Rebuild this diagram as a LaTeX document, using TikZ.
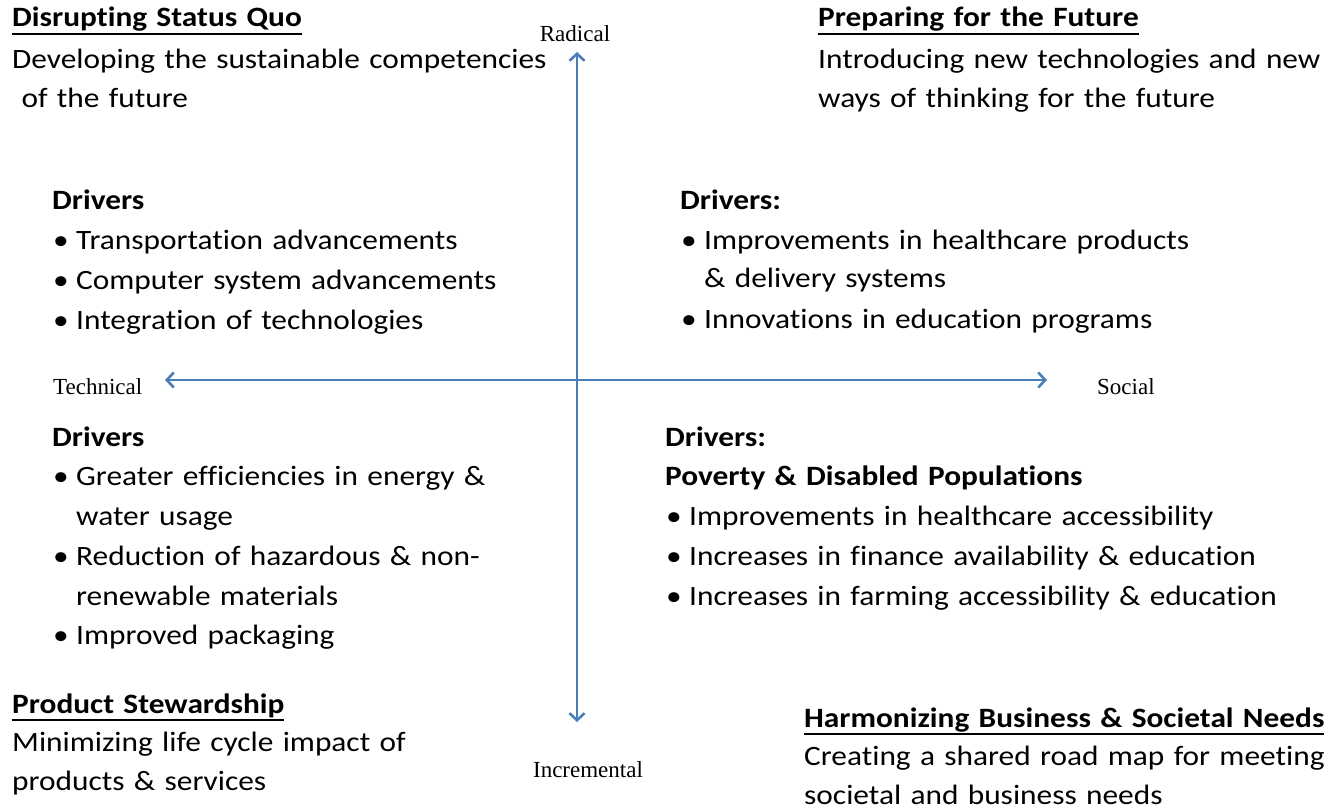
\documentclass[tikz,border=0pt]{standalone}
\usepackage{fontspec}
\setmainfont{Carlito}[Ligatures=NoCommon,FakeStretch=1.12]
\newfontfamily\axisfont{Liberation Serif}
\usetikzlibrary{arrows.meta}
\definecolor{axisblue}{HTML}{4A7EBB}
\newcommand{\bul}{\makebox[24pt][l]{\hspace{1pt}•}}
\newcommand{\cont}{\hspace*{24pt}}
\newlength\ttlw
\newcommand{\ttl}[1]{\settowidth\ttlw{\textbf{#1}}\textbf{#1}\hspace{-\ttlw}\rule[-8pt]{\ttlw}{1.8pt}}
\begin{document}
\begin{tikzpicture}[x=1pt,y=-1pt,
  txt/.style={anchor=base west,inner sep=0pt,align=left,text width=700pt,
    font=\fontsize{28}{38.8}\selectfont},
  lst/.style={txt,font=\fontsize{28}{39.8}\selectfont},
  axlabel/.style={inner sep=0pt,font=\axisfont\fontsize{23}{26}\selectfont},
  axis/.style={draw=axisblue,line width=2.6pt,
    {Straight Barb[length=7pt,width=15pt,line width=2.6pt]}-{Straight Barb[length=7pt,width=15pt,line width=2.6pt]}}]
\useasboundingbox (0,0) rectangle (1342,810);

% axes
\coordinate (vtop) at (577,52);
\coordinate (vbot) at (577,722);
\coordinate (hleft) at (165,380);
\coordinate (hright) at (1047,380);
\draw[axis] (vtop) -- (vbot);
\draw[axis] (hleft) -- (hright);

\node[axlabel] (radical) at (575,34) {Radical};
\node[axlabel] (incremental) at (588,770) {Incremental};
\node[axlabel,anchor=west] (technical) at (53,387) {Technical};
\node[axlabel,anchor=west] (social) at (1097,387) {Social};

% quadrant headings
\node[txt] (tl) at (12,27) {\ttl{Disrupting Status Quo}\\[3pt]
Developing the sustainable competencies\\
\ of the future};
\node[txt] (tr) at (818,27) {\ttl{Preparing for the Future}\\[3pt]
Introducing new technologies and new\\
ways of thinking for the future};
\node[txt] (bl) at (12,713) {\ttl{Product Stewardship}\\
Minimizing life cycle impact of\\
products \& services};
\node[txt] (br) at (804,727) {\ttl{Harmonizing Business \& Societal Needs}\\
Creating a shared road map for meeting\\
societal and business needs};

% drivers
\node[lst] (dtl) at (52,210) {\textbf{Drivers}\\
\bul Transportation advancements\\
\bul Computer system advancements\\
\bul Integration of technologies};
\node[lst] (dtr) at (680,210) {\textbf{Drivers:}\\
\bul Improvements in healthcare products\\[-2pt]
\cont\& delivery systems\\[1.5pt]
\bul Innovations in education programs};
\node[lst] (dbl) at (52,446) {\textbf{Drivers}\\
\bul Greater efficiencies in energy \&\\
\cont water usage\\
\bul Reduction of hazardous \& non-\\
\cont renewable materials\\
\bul Improved packaging};
\node[lst] (dbr) at (665,446) {\textbf{Drivers:}\\
\textbf{Poverty \& Disabled Populations}\\
\bul Improvements in healthcare accessibility\\
\bul Increases in finance availability \& education\\
\bul Increases in farming accessibility \& education};
\end{tikzpicture}
\end{document}
